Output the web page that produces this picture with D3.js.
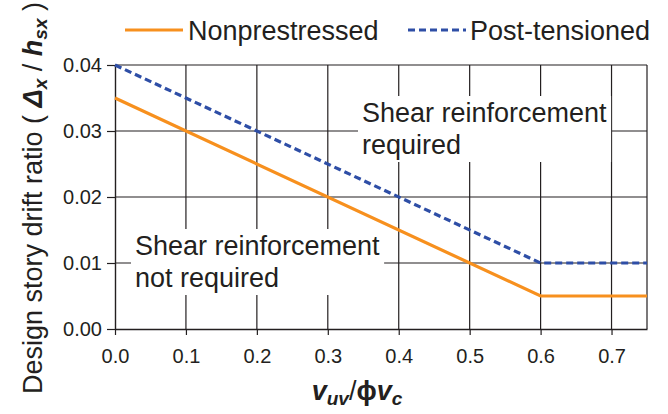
<!DOCTYPE html>
<html><head><meta charset="utf-8">
<script src="https://cdn.jsdelivr.net/npm/d3@7"></script>
<style>body{margin:0;background:#fff;} text{font-family:"Liberation Sans",Arial,sans-serif;fill:#231f20;}</style>
</head><body>
<svg id="c" width="668" height="414"></svg>
<script>
const xTicks = [0,0.1,0.2,0.3,0.4,0.5,0.6,0.7];
const yTicks = [0,0.01,0.02,0.03,0.04];
const nonX = [0, 0.6, 0.75];
const nonY = [0.035, 0.005, 0.005];
const ptX = [0, 0.6, 0.75];
const ptY = [0.04, 0.01, 0.01];
const seriesNames = ["Nonprestressed","Post-tensioned"];
const annotations = [["Shear reinforcement","not required"],["Shear reinforcement","required"]];

const svg = d3.select("#c");
const m = {l:115, t:65, r:21, b:85};
const W = 668 - m.l - m.r, H = 414 - m.t - m.b;
const x = d3.scaleLinear().domain([0,0.75]).range([m.l, m.l+W]);
const y = d3.scaleLinear().domain([0,0.04]).range([m.t+H, m.t]);
const ink = "#231f20";

// grid
const g = svg.append("g");
g.selectAll(".vg").data(xTicks.slice(1)).enter().append("line")
  .attr("x1",d=>x(d)).attr("x2",d=>x(d)).attr("y1",y(0)).attr("y2",y(0.04))
  .attr("stroke",ink).attr("stroke-width",1.2);
g.selectAll(".hg").data(yTicks.slice(1)).enter().append("line")
  .attr("x1",x(0)).attr("x2",x(0.75)).attr("y1",d=>y(d)).attr("y2",d=>y(d))
  .attr("stroke",ink).attr("stroke-width",1.2);
g.append("line").attr("x1",x(0.75)).attr("x2",x(0.75)).attr("y1",y(0)).attr("y2",y(0.04)).attr("stroke",ink).attr("stroke-width",1.2);

// axes
const xa = svg.append("g").attr("transform",`translate(0,${y(0)})`)
  .call(d3.axisBottom(x).tickValues(xTicks).tickFormat(d3.format(".1f")).tickSize(6).tickSizeOuter(0));
const ya = svg.append("g").attr("transform",`translate(${x(0)},0)`)
  .call(d3.axisLeft(y).tickValues(yTicks).tickFormat(d3.format(".2f")).tickSize(8).tickSizeOuter(0));
[xa,ya].forEach(a=>{a.select(".domain").attr("stroke",ink).attr("stroke-width",1.4);
  a.selectAll(".tick line").attr("stroke",ink).attr("stroke-width",1.2);
  a.selectAll("text").style("font-size","20px").attr("fill",ink).style("font-family","Liberation Sans, Arial, sans-serif");});
xa.selectAll("text").attr("dy","1.25em");
ya.selectAll("text").attr("dx","-0.1em");

// annotations with white boxes
function note(lines, px, py){
  const grp = svg.append("g");
  const rect = grp.append("rect").attr("fill","#fff");
  const t = grp.append("text").attr("x",px).attr("y",py).style("font-size","27px");
  lines.forEach((s,i)=>t.append("tspan").attr("x",px).attr("dy",i?32:0).text(s));
  const bb = t.node().getBBox();
  rect.attr("x",bb.x-4).attr("y",bb.y-2).attr("width",bb.width+8).attr("height",bb.height+4);
}
note(annotations[0], 135, 255);
note(annotations[1], 362, 122);

// lines
const line = d3.line().x(d=>x(d[0])).y(d=>y(d[1]));
svg.append("path").datum(ptX.map((v,i)=>[v,ptY[i]])).attr("d",line)
  .attr("fill","none").attr("stroke","#2e4ea6").attr("stroke-width",3.2).attr("stroke-dasharray","7,4");
svg.append("path").datum(nonX.map((v,i)=>[v,nonY[i]])).attr("d",line)
  .attr("fill","none").attr("stroke","#f7901e").attr("stroke-width",3.2);

// legend
const lg = svg.append("g");
lg.append("line").attr("x1",125).attr("x2",183).attr("y1",30).attr("y2",30).attr("stroke","#f7901e").attr("stroke-width",3.2);
lg.append("text").attr("x",188).attr("y",40).style("font-size","27px").text(seriesNames[0]);
lg.append("line").attr("x1",408).attr("x2",466).attr("y1",30).attr("y2",30).attr("stroke","#2e4ea6").attr("stroke-width",3.2).attr("stroke-dasharray","7,4");
lg.append("text").attr("x",470).attr("y",40).style("font-size","27px").text(seriesNames[1]);

// x title
const xt = svg.append("text").attr("x",357).attr("y",400).attr("text-anchor","middle").style("font-size","27px");
xt.append("tspan").attr("font-weight","bold").attr("font-style","italic").text("v");
xt.append("tspan").attr("font-weight","bold").attr("font-style","italic").style("font-size","19px").attr("dy",5).text("uv");
xt.append("tspan").attr("dy",-5).text("/");
xt.append("tspan").attr("font-weight","bold").text("ϕ");
xt.append("tspan").attr("font-weight","bold").attr("font-style","italic").text("v");
xt.append("tspan").attr("font-weight","bold").attr("font-style","italic").style("font-size","19px").attr("dy",5).text("c");

// y title
const yt = svg.append("text").attr("transform","translate(42,198) rotate(-90)").attr("text-anchor","middle").style("font-size","27px");
yt.append("tspan").text("Design story drift ratio ( ");
yt.append("tspan").attr("font-weight","bold").attr("font-style","italic").text("Δ");
yt.append("tspan").attr("font-weight","bold").attr("font-style","italic").style("font-size","19px").attr("dy",5).text("x");
yt.append("tspan").attr("dy",-5).text(" / ");
yt.append("tspan").attr("font-weight","bold").attr("font-style","italic").text("h");
yt.append("tspan").attr("font-weight","bold").attr("font-style","italic").style("font-size","19px").attr("dy",5).text("sx");
yt.append("tspan").attr("dy",-5).text(" )");
</script>
</body></html>
